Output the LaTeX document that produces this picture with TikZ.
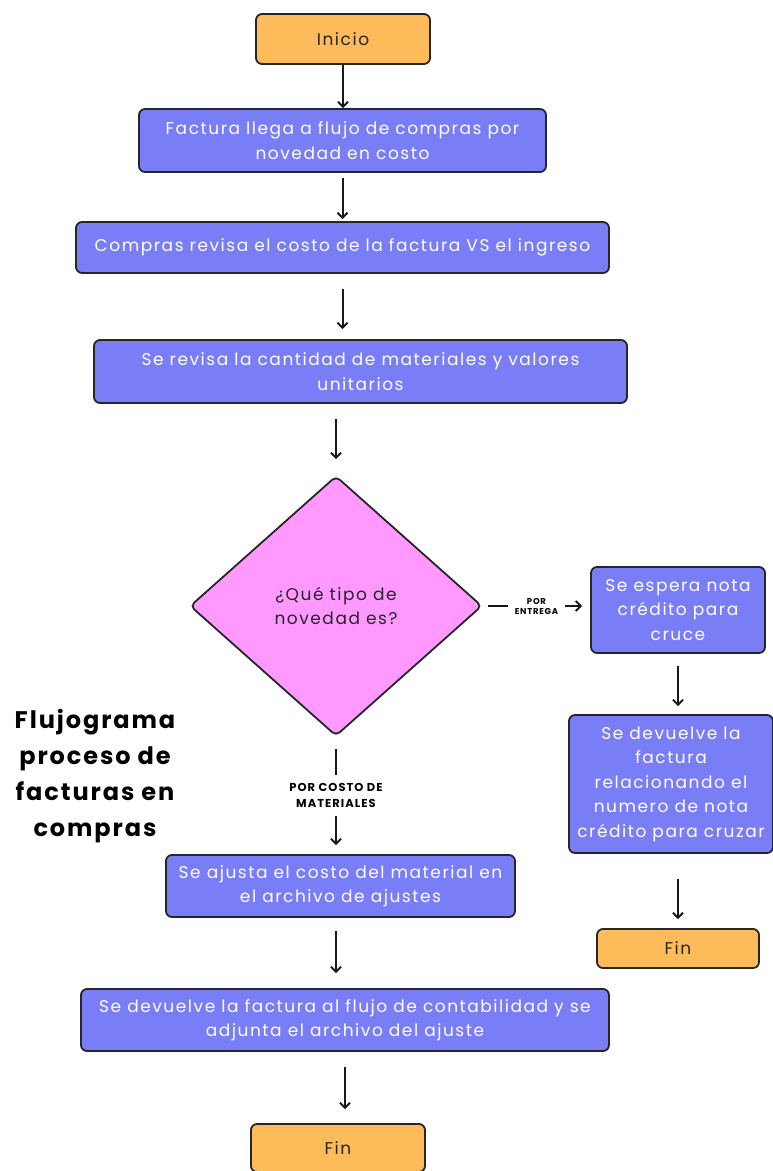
\documentclass[tikz,border=0pt]{standalone}
\usepackage{fontspec}
\setmainfont{Poppins}[LetterSpace=9]
\newfontfamily\titlefont{Poppins}[LetterSpace=8]
\usetikzlibrary{positioning, arrows.meta, shapes.geometric}
\definecolor{boxblue}{HTML}{797EF6}
\definecolor{boxorange}{HTML}{FEBB5A}
\definecolor{boxpink}{HTML}{FF99FF}

\begin{document}
\begin{tikzpicture}[x=1pt, y=-1pt,
    every node/.style={font=\fontsize{17}{24.5}\selectfont},
    proc/.style={rectangle, rounded corners=6pt, draw=black!85, line width=1.8pt, fill=boxblue, text=white, align=center, inner sep=0pt},
    term/.style={proc, fill=boxorange, text=black!85},
    decision/.style={diamond, draw=black!85, line width=1.8pt, fill=boxpink, text=black!85, align=center, inner sep=0pt, rounded corners=5pt},
    tag/.style={fill=white, align=center, text=black},
    arrow/.style={-{Straight Barb[length=5pt, width=10pt]}, line width=2pt, black!90}]

  \useasboundingbox (0,0) rectangle (773,1171);

  \node[term, minimum width=174, minimum height=50] (inicio) at (343,39) {Inicio};
  \node[proc, minimum width=407, minimum height=63] (factura) at (342.5,140.5) {Factura llega a flujo de compras por\\novedad en costo};
  \node[proc, minimum width=533, minimum height=51] (compras) at (342.5,247.5) {Compras revisa el costo de la factura VS el ingreso};
  \node[proc, minimum width=533, minimum height=63] (revisa) at (360.5,371.5) {Se revisa la cantidad de materiales y valores\\unitarios};
  \node[decision, minimum width=292, minimum height=260] (tipo) at (336,606) {¿Qué tipo de\\novedad es?};

  % rama por entrega
  \node[proc, minimum width=174, minimum height=86] (espera) at (678,610) {Se espera nota\\crédito para\\cruce};
  \node[proc, minimum width=204, minimum height=138] (devuelve) at (671,784) {Se devuelve la\\factura\\relacionando el\\numero de nota\\crédito para cruzar};
  \node[term, minimum width=162, minimum height=39] (finb) at (678,948.5) {Fin};

  % rama por costo de materiales
  \node[proc, minimum width=349, minimum height=62] (ajuste) at (340.5,886) {Se ajusta el costo del material en\\el archivo de ajustes};
  \node[proc, minimum width=528, minimum height=62] (adjunta) at (345,1020) {Se devuelve la factura al flujo de contabilidad y se\\adjunta el archivo del ajuste};
  \node[term, minimum width=174, minimum height=48] (fin) at (338,1148) {Fin};

  \node[font=\titlefont\fontsize{24}{36}\selectfont\bfseries, align=center, text=black] (titulo) at (95,776) {Flujograma\\proceso de\\facturas en\\compras};

  \draw[arrow] (inicio) -- (inicio |- factura.north);
  \draw[arrow, shorten <=5pt, shorten >=2pt] (factura) -- (factura |- compras.north);
  \draw[arrow, shorten <=15pt, shorten >=10pt] (compras.south) -- (compras.south |- revisa.north);
  \draw[arrow, shorten <=15pt, shorten >=16pt] (tipo.north |- revisa.south) -- (tipo.north);
  \draw[arrow, shorten <=5pt, shorten >=8pt] (tipo.east) -- node[tag, font=\fontsize{8.5}{10}\selectfont\bfseries, inner xsep=7pt] {POR\\ENTREGA} (tipo.east -| espera.west);
  \draw[arrow, shorten <=12pt, shorten >=8pt] (espera.south) -- (espera.south |- devuelve.north);
  \draw[arrow, shorten <=25pt, shorten >=9pt] (finb.north |- devuelve.south) -- (finb.north);
  \draw[arrow, shorten <=12pt, shorten >=9pt] (tipo.south) -- node[tag, font=\fontsize{11.5}{16}\selectfont\bfseries, inner ysep=8pt] {POR COSTO DE\\MATERIALES} (tipo.south |- ajuste.north);
  \draw[arrow, shorten <=13pt, shorten >=15pt] (tipo.south |- ajuste.south) -- (tipo.south |- adjunta.north);
  \draw[arrow, shorten <=15pt, shorten >=14pt] (adjunta.south) -- (adjunta.south |- fin.north);
\end{tikzpicture}
\end{document}
